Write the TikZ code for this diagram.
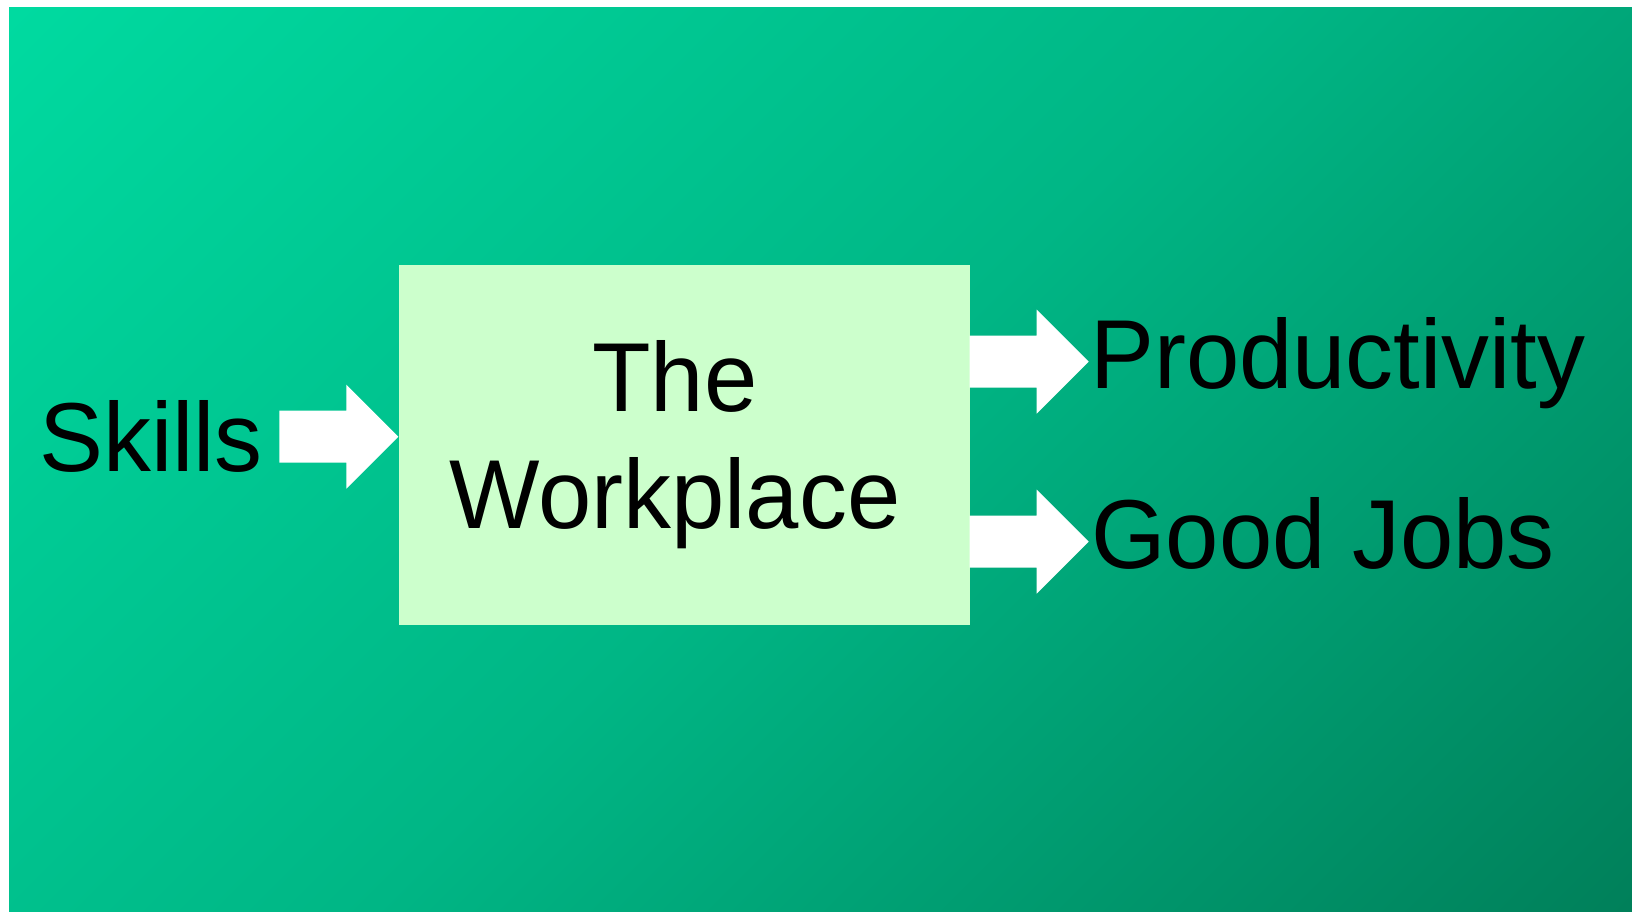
\documentclass[tikz,border=0pt]{standalone}
\usepackage{fontspec}
\setmainfont{Liberation Sans}
\usetikzlibrary{calc}
\definecolor{bgtl}{RGB}{0,218,160}
\definecolor{bgmid}{RGB}{0,182,133}
\definecolor{bgbr}{RGB}{0,128,90}
\definecolor{boxfill}{RGB}{204,255,204}
\pgfdeclareverticalshading{bgshade}{100bp}{color(0bp)=(bgbr); color(14.64bp)=(bgbr); color(50bp)=(bgmid); color(85.36bp)=(bgtl); color(100bp)=(bgtl)}
\begin{document}
\begin{tikzpicture}[x=1pt,y=-1pt,
  bigtext/.style={inner sep=0pt, font=\fontsize{98}{117}\selectfont, text=black, xscale=0.978, transform shape},
  wpbox/.style={fill=boxfill, draw=none, minimum width=571pt, minimum height=360pt, inner sep=0pt},
  blockarrow/.style={fill=white, draw=none}]
\useasboundingbox (0,0) rectangle (1632,912);
\fill[white] (0,0) rectangle (1632,912);
\shade[shading=bgshade, shading angle=45] (9,8) rectangle (1632,912);
% box
\node[wpbox] (wp) at (684,444.5) {};
\node[bigtext, anchor=base] (the) at (675,411.7) {The};
\node[bigtext, anchor=base] (workplace) at (675,528.3) {Workplace};
% labels
\node[bigtext, anchor=base west] (skills) at (39,471.7) {Skills};
\node[bigtext, anchor=base west] (prod) at (1090,388.3) {Productivity};
\node[bigtext, anchor=base west] (jobs) at (1091,568.3) {Good Jobs};
% arrows
\coordinate (tipA) at ($(wp.west)+(0,-7.8)$);
\fill[blockarrow] (tipA) -- ++(-52,-52) -- ++(0,26) -- ++(-67,0) -- ++(0,52) -- ++(67,0) -- ++(0,26) -- cycle;
\coordinate (tailB) at ($(wp.east)+(0,-82.8)$);
\fill[blockarrow] (tailB) -- ++(0,-26) -- ++(67,0) -- ++(0,-26) -- ++(52,52) -- ++(-52,52) -- ++(0,-26) -- ++(-67,0) -- cycle;
\coordinate (tailC) at ($(wp.east)+(0,97.2)$);
\fill[blockarrow] (tailC) -- ++(0,-26) -- ++(67,0) -- ++(0,-26) -- ++(52,52) -- ++(-52,52) -- ++(0,-26) -- ++(-67,0) -- cycle;
\end{tikzpicture}
\end{document}
